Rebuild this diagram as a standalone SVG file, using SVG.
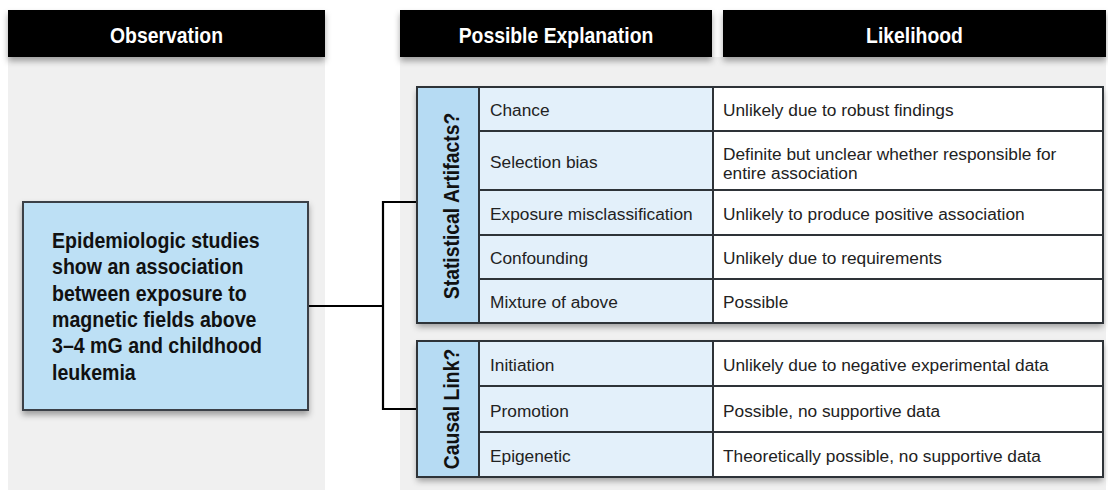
<svg xmlns="http://www.w3.org/2000/svg" width="1108" height="491" viewBox="0 0 1108 491">
<defs>
<filter id="sh" x="-10%" y="-20%" width="120%" height="150%">
<feDropShadow dx="0" dy="4" stdDeviation="3" flood-color="#000" flood-opacity="0.35"/>
</filter>
<style>
.hdr{fill:#000;filter:url(#sh)}
.ht{font-family:"Liberation Sans",Arial,sans-serif;font-weight:bold;font-size:22px;fill:#fff;text-anchor:middle}
.bt{font-family:"Liberation Sans",Arial,sans-serif;font-weight:bold;font-size:22px;fill:#111}
.vt{font-family:"Liberation Sans",Arial,sans-serif;font-weight:bold;font-size:22px;fill:#111;text-anchor:middle}
.t{font-family:"Liberation Sans",Arial,sans-serif;font-size:17.3px;fill:#222}
.ln{stroke:#2e3338;stroke-width:2;fill:none}
.lab{fill:#b6dbf3}
.c2{fill:#e3f0fa}
.c3{fill:#fff}
.conn{stroke:#000;stroke-width:2.2;fill:none}
.panel{fill:#f0f0f0}
</style>
</defs>
<rect class="panel" x="8" y="57" width="317" height="433"/>
<rect class="panel" x="400" y="57" width="706" height="433"/>

<g id="header-observation">
<rect class="hdr" x="8" y="10" width="317" height="47"/>
<text class="ht" transform="translate(166.5,43) scale(0.88,1)" x="0" y="0">Observation</text>
</g>
<g id="header-explanation">
<rect class="hdr" x="400" y="10" width="312" height="47"/>
<text class="ht" transform="translate(556,43) scale(0.88,1)" x="0" y="0">Possible Explanation</text>
</g>
<g id="header-likelihood">
<rect class="hdr" x="723" y="10" width="383" height="47"/>
<text class="ht" transform="translate(914.5,43) scale(0.88,1)" x="0" y="0">Likelihood</text>
</g>

<g id="connectors">
<polyline class="conn" points="308,306 383,306"/>
<polyline class="conn" points="417,202 383,202 383,409 417,409"/>
</g>

<g id="observation">
<rect x="23" y="202" width="285" height="208" fill="#bde0f5" stroke="#3a4046" stroke-width="2" filter="url(#sh)"/>
<g transform="translate(52,0) scale(0.89,1)">
<text class="bt" x="0" y="248">Epidemiologic studies</text>
<text class="bt" x="0" y="274.5">show an association</text>
<text class="bt" x="0" y="301">between exposure to</text>
<text class="bt" x="0" y="327">magnetic fields above</text>
<text class="bt" x="0" y="353.5">3–4 mG and childhood</text>
<text class="bt" x="0" y="380">leukemia</text>
</g>
</g>

<g id="statistical-artifacts">
<rect x="417" y="87" width="686" height="236" fill="#fff" filter="url(#sh)"/>
<rect class="lab" x="417" y="87" width="62" height="236"/>
<rect class="c2" x="479" y="87" width="234" height="236"/>
<rect class="c3" x="713" y="87" width="390" height="236"/>
<path class="ln" d="M479,131H1103M479,190H1103M479,235H1103M479,279H1103M479,87V323M713,87V323"/>
<rect class="ln" x="417" y="87" width="686" height="236"/>
<text class="vt" transform="translate(459,206) rotate(-90) scale(0.88,1)" x="0" y="0">Statistical Artifacts?</text>
<text class="t" x="490" y="116">Chance</text>
<text class="t" x="490" y="168">Selection bias</text>
<text class="t" x="490" y="220">Exposure misclassification</text>
<text class="t" x="490" y="264">Confounding</text>
<text class="t" x="490" y="308">Mixture of above</text>
<text class="t" x="723" y="116">Unlikely due to robust findings</text>
<text class="t" x="723" y="159.5">Definite but unclear whether responsible for</text>
<text class="t" x="723" y="178.5">entire association</text>
<text class="t" x="723" y="220">Unlikely to produce positive association</text>
<text class="t" x="723" y="264">Unlikely due to requirements</text>
<text class="t" x="723" y="308">Possible</text>
</g>

<g id="causal-link">
<rect x="417" y="341" width="686" height="136" fill="#fff" filter="url(#sh)"/>
<rect class="lab" x="417" y="341" width="62" height="136"/>
<rect class="c2" x="479" y="341" width="234" height="136"/>
<rect class="c3" x="713" y="341" width="390" height="136"/>
<path class="ln" d="M479,386H1103M479,432H1103M479,341V477M713,341V477"/>
<rect class="ln" x="417" y="341" width="686" height="136"/>
<text class="vt" transform="translate(459,409) rotate(-90) scale(0.88,1)" x="0" y="0">Causal Link?</text>
<text class="t" x="490" y="371">Initiation</text>
<text class="t" x="490" y="416.5">Promotion</text>
<text class="t" x="490" y="462">Epigenetic</text>
<text class="t" x="723" y="371">Unlikely due to negative experimental data</text>
<text class="t" x="723" y="416.5">Possible, no supportive data</text>
<text class="t" x="723" y="462">Theoretically possible, no supportive data</text>
</g>
</svg>
